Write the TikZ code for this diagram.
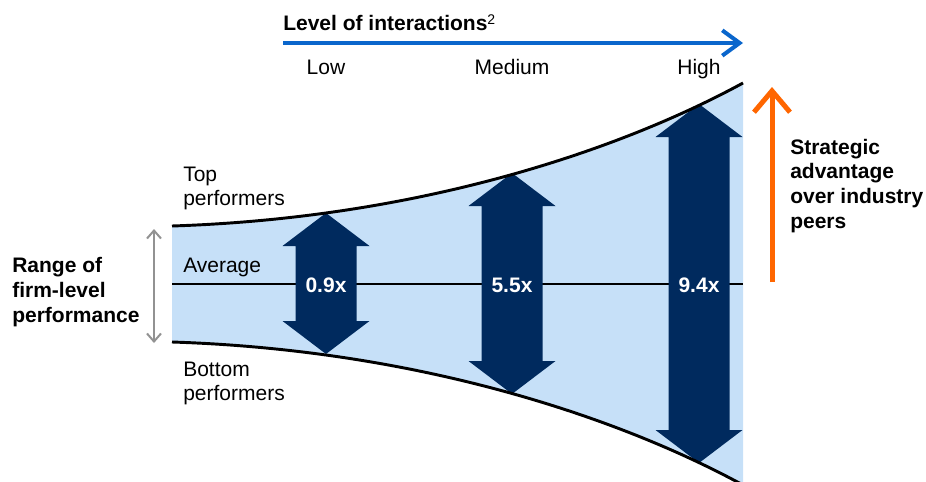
\documentclass[tikz,border=0pt]{standalone}
\usepackage{fontspec}
\setmainfont{Liberation Sans}
\usetikzlibrary{arrows.meta}
\definecolor{funnelblue}{HTML}{C6E0F8}
\definecolor{navy}{HTML}{002A5E}
\definecolor{axisblue}{HTML}{0A66CC}
\definecolor{advorange}{HTML}{FF6600}
\definecolor{rangegray}{HTML}{929292}
\begin{document}
\begin{tikzpicture}[x=0.75pt,y=-0.75pt,
  txt/.style={inner sep=0, align=left, font=\fontsize{15.75}{18}\selectfont},
  bld/.style={inner sep=0, align=left, font=\fontsize{15.75}{18.4}\selectfont\bfseries},
  mult/.style={inner sep=0, text=white, font=\fontsize{15.75}{18}\selectfont\bfseries},
  edge/.style={line width=2.2pt}]
\useasboundingbox (0,0) rectangle (926,482);
\fill[funnelblue] (172,226) .. controls (420,218) and (620,150) .. (743,83) -- (743,485) .. controls (620,418) and (420,350) .. (172,342) -- cycle;
\coordinate (avgl) at (172,284);
\coordinate (avgr) at (743,284);
\draw[line width=1.9pt] (avgl) -- (avgr);

\fill[navy] (326,213) -- (369.5,246) -- (356.5,246) -- (356.5,321) -- (369.5,321) -- (326,354) -- (282.5,321) -- (295.5,321) -- (295.5,246) -- (282.5,246) -- cycle;
\fill[navy] (512,173) -- (555.5,206) -- (542.5,206) -- (542.5,361) -- (555.5,361) -- (512,394) -- (468.5,361) -- (481.5,361) -- (481.5,206) -- (468.5,206) -- cycle;
\fill[navy] (699,104) -- (742.5,137) -- (729.5,137) -- (729.5,430) -- (742.5,430) -- (699,463) -- (655.5,430) -- (668.5,430) -- (668.5,137) -- (655.5,137) -- cycle;
\node[mult] (m1) at (326,285) {0.9x};
\node[mult] (m2) at (512,285) {5.5x};
\node[mult] (m3) at (699,285) {9.4x};

\draw[edge] (172,226) .. controls (420,218) and (620,150) .. (743,83);
\draw[edge] (172,342) .. controls (420,350) and (620,418) .. (743,485);

\coordinate (axl) at (283,43);
\coordinate (axr) at (743,43);
\draw[axisblue, line width=3pt, -{Straight Barb[length=13pt,width=19pt]}] (axl) -- (axr);
\node[bld, anchor=base west] (lvl) at (283,30) {Level of interactions\raisebox{4.5pt}{\fontsize{10.5}{10.5}\selectfont\mdseries 2}};
\node[txt, anchor=base] (low) at (326,74) {Low};
\node[txt, anchor=base] (med) at (512,74) {Medium};
\node[txt, anchor=base] (high) at (699,74) {High};

\node[txt, anchor=base west] (top) at (183,205) {Top\\performers};
\node[txt, anchor=base west] (avg) at (183,272) {Average};
\node[txt, anchor=base west] (bot) at (183,400) {Bottom\\performers};

\coordinate (rngt) at (154,229);
\coordinate (rngb) at (154,343);
\draw[rangegray, line width=1.5pt, {Straight Barb[length=6pt,width=10.5pt]}-{Straight Barb[length=6pt,width=10.5pt]}] (rngt) -- (rngb);
\node[bld, anchor=base west] (rng) at (12,322) {Range of\\firm-level\\performance};

\coordinate (advb) at (772,282);
\coordinate (advt) at (772,87);
\draw[advorange, line width=3.75pt, -{Straight Barb[length=16pt,width=27pt]}] (advb) -- (advt);
\node[bld, anchor=base west] (adv) at (790,228) {Strategic\\advantage\\over industry\\peers};

\end{tikzpicture}
\end{document}
